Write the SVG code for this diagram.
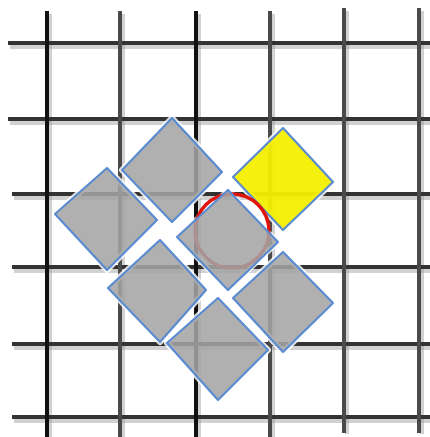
<svg xmlns="http://www.w3.org/2000/svg" width="430" height="437" viewBox="0 0 430 437">
<style>
.sh{stroke:#9a9a9a;stroke-width:4;opacity:0.45}
.gk{stroke:#111;stroke-width:4}
.gg{stroke:#4a4a4a;stroke-width:4}
.gh{stroke:#333;stroke-width:4}
.halo{fill:none;stroke:#fff;stroke-width:6;stroke-linejoin:round;opacity:0.85}
.tile{fill:#a4a4a4;fill-opacity:0.87;stroke:#5b8bd0;stroke-width:2.2;stroke-linejoin:round}
.yel{fill:#f4ef00;fill-opacity:0.95;stroke:#5b8bd0;stroke-width:2.2;stroke-linejoin:round}
</style>
<rect width="430" height="437" fill="#fff"/>
<g id="grid">
<g id="grid-shadow">
<line class="sh" x1="50" y1="14" x2="50" y2="437"/>
<line class="sh" x1="123" y1="14" x2="123" y2="437"/>
<line class="sh" x1="199" y1="14" x2="199" y2="437"/>
<line class="sh" x1="273" y1="14" x2="273" y2="437"/>
<line class="sh" x1="347" y1="11" x2="347" y2="434"/>
<line class="sh" x1="422" y1="11" x2="422" y2="434"/>
<line class="sh" x1="10" y1="47" x2="430" y2="47"/>
<line class="sh" x1="10" y1="123" x2="430" y2="123"/>
<line class="sh" x1="14" y1="198" x2="430" y2="198"/>
<line class="sh" x1="14" y1="271" x2="430" y2="271"/>
<line class="sh" x1="14" y1="348" x2="430" y2="348"/>
<line class="sh" x1="14" y1="421" x2="430" y2="421"/>
</g>
<line class="gh" x1="8" y1="43" x2="430" y2="43"/>
<line class="gh" x1="8" y1="119" x2="430" y2="119"/>
<line class="gh" x1="12" y1="194" x2="430" y2="194"/>
<line class="gh" x1="12" y1="267" x2="430" y2="267"/>
<line class="gh" x1="12" y1="344" x2="430" y2="344"/>
<line class="gh" x1="12" y1="417" x2="430" y2="417"/>
<line class="gk" x1="47" y1="11" x2="47" y2="437"/>
<line class="gg" x1="120" y1="11" x2="120" y2="437"/>
<line class="gk" x1="196" y1="11" x2="196" y2="437"/>
<line class="gg" x1="270" y1="11" x2="270" y2="437"/>
<line class="gg" x1="344" y1="8" x2="344" y2="433"/>
<line class="gg" x1="419" y1="8" x2="419" y2="433"/>
</g>
<g id="tile-a">
<polygon class="halo" points="172,118 222,172 172,222 122,170"/>
<polygon class="tile" points="172,118 222,172 172,222 122,170"/>
</g>
<g id="tile-b">
<polygon class="halo" points="107,168 157,220 107,270 55,214"/>
<polygon class="tile" points="107,168 157,220 107,270 55,214"/>
</g>
<g id="tile-d">
<polygon class="halo" points="160,240 206,290 160,342 108,288"/>
<polygon class="tile" points="160,240 206,290 160,342 108,288"/>
</g>
<g id="tile-yellow">
<polygon class="halo" points="283,128 333,182 283,230 233,177"/>
<polygon class="yel" points="283,128 333,182 283,230 233,177"/>
</g>
<g id="tile-e">
<polygon class="halo" points="283,252 333,303 283,352 233,298"/>
<polygon class="tile" points="283,252 333,303 283,352 233,298"/>
</g>
<g id="tile-f">
<polygon class="halo" points="218,298 268,350 218,400 167,343"/>
<polygon class="tile" points="218,298 268,350 218,400 167,343"/>
</g>
<g id="tile-c-halo">
<polygon fill="none" stroke="#fff" stroke-width="5" stroke-linejoin="round" opacity="0.8" points="228,190 278,242 228,290 177,237"/>
</g>
<g id="circle">
<circle cx="232" cy="231" r="37" fill="none" stroke="#e0140c" stroke-width="3.5"/>
</g>
<g id="tile-c">
<polygon class="tile" points="228,190 278,242 228,290 177,237"/>
</g>
</svg>
